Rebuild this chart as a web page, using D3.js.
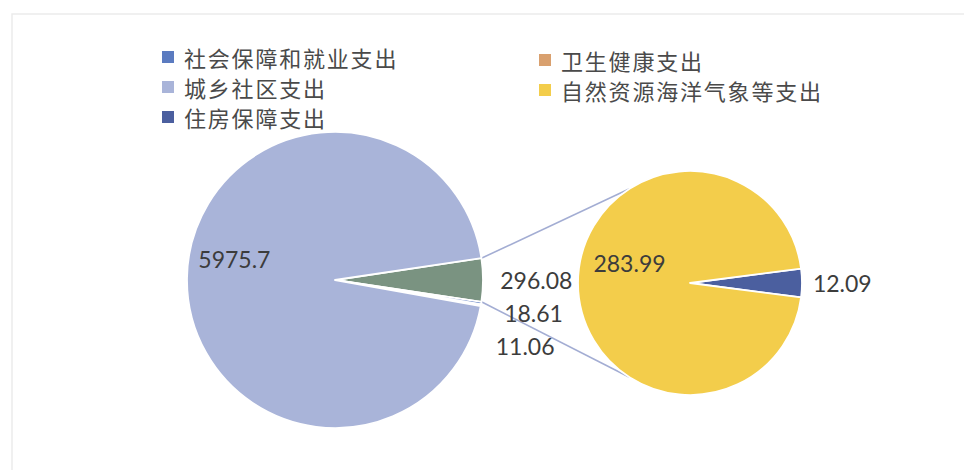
<!DOCTYPE html>
<html lang="zh">
<head>
<meta charset="UTF-8">
<title>支出构成</title>
<script src="https://cdn.jsdelivr.net/npm/d3@7/dist/d3.min.js"></script>
<style>
    body { margin: 0; background: #fff; }
    .legend text { font-family: "Noto Sans CJK SC", sans-serif; font-size: 22px; fill: #4a4a4a; letter-spacing: 1.8px; }
    .lbl { font-family: Lato, "Open Sans", sans-serif; font-size: 23px; fill: #3c3c3c; }
</style>
</head>
<body>
<script>
    // 数据
    var names  = ["社会保障和就业支出", "卫生健康支出", "城乡社区支出", "自然资源海洋气象等支出", "住房保障支出"];
    var values = [18.61, 11.06, 5975.7, 283.99, 12.09];
    var colors = ["#5b7bc0", "#d9a06e", "#a9b4d9", "#f3cd4b", "#4b5f9f"];
    var otherColor = "#7a9381";
    var secondCount = 2;   // 最后两项放进第二个饼

    var W = 964, H = 470;
    var svg = d3.select("body").append("svg").attr("width", W).attr("height", H);

    // 淡边框
    svg.append("rect").attr("x", 12).attr("y", 14).attr("width", W).attr("height", H)
        .attr("fill", "none").attr("stroke", "#ebebeb").attr("stroke-width", 1.5);

    var items = names.map(function(n, i){ return {name: n, value: values[i], color: colors[i]}; });
    var secondItems = items.slice(items.length - secondCount).reverse();   // 住房保障在 3 点钟方向
    var otherValue = d3.sum(secondItems, d => d.value);
    var mainItems = [{name: "其他", value: otherValue, color: otherColor}].concat(items.slice(0, items.length - secondCount));

    var c1 = [335, 280], r1 = 148;
    var c2 = [690, 283], r2 = 112;

    function makePie(list){
        var total = d3.sum(list, d => d.value);
        var a0 = list[0].value / total * 2 * Math.PI;
        return d3.pie().sort(null).value(d => d.value)
            .startAngle(Math.PI / 2 - a0 / 2)
            .endAngle(Math.PI / 2 - a0 / 2 + 2 * Math.PI)(list);
    }
    var mainArcs = makePie(mainItems);
    var secArcs = makePie(secondItems);

    // d3 角度（12 点钟起顺时针）-> 坐标
    function pt(c, r, a){ return [c[0] + r * Math.sin(a), c[1] - r * Math.cos(a)]; }

    // 连接线
    var oth = mainArcs[0];
    var connAngle = 33 * Math.PI / 180;
    var lines = [
        [pt(c1, r1, oth.startAngle), pt(c2, r2, -connAngle)],
        [pt(c1, r1, oth.endAngle), pt(c2, r2, Math.PI + connAngle)]
    ];
    svg.selectAll(".conn").data(lines).enter().append("line")
        .attr("class", "conn")
        .attr("x1", d => d[0][0]).attr("y1", d => d[0][1])
        .attr("x2", d => d[1][0]).attr("y2", d => d[1][1])
        .attr("stroke", "#a3add3").attr("stroke-width", 1.6);

    function drawPie(arcs, c, r){
        var g = svg.append("g").attr("transform", "translate(" + c[0] + "," + c[1] + ")");
        g.selectAll("path").data(arcs).enter().append("path")
            .attr("d", d3.arc().innerRadius(0).outerRadius(r))
            .attr("fill", d => d.data.color)
            .attr("stroke", "#fff").attr("stroke-width", 1.8).attr("stroke-linejoin", "round");
        return g;
    }
    drawPie(mainArcs, c1, r1);
    drawPie(secArcs, c2, r2);

    // 数据标签
    function fmt(v){ return String(v); }
    function labels(arcs, c, r, insideRatio){
        var total = d3.sum(arcs, d => d.value);
        var out = [], prevY = -Infinity;
        arcs.forEach(function(d){
            var mid = (d.startAngle + d.endAngle) / 2;
            var share = d.value / total;
            if (share > 0.5) {
                var p = pt(c, r * insideRatio, mid);
                out.push({x: p[0], y: p[1] - 20, text: fmt(d.value)});
            } else {
                var R = r * 1.36;
                var p = pt(c, R, mid);
                if (p[1] < prevY + 33) {
                    var y = prevY + 33;
                    p = [c[0] + Math.sqrt(R * R - (y - c[1]) * (y - c[1])), y];
                }
                prevY = p[1];
                out.push({x: p[0], y: p[1], text: fmt(d.value)});
            }
        });
        return out;
    }
    var allLabels = labels(mainArcs, c1, r1, 0.68).concat(labels(secArcs, c2, r2, 0.54));
    svg.selectAll(".lbl").data(allLabels).enter().append("text")
        .attr("class", "lbl")
        .attr("x", d => d.x).attr("y", d => d.y)
        .attr("text-anchor", "middle").attr("dominant-baseline", "central")
        .text(d => d.text);

    // 图例（两列，按行排列）
    var legend = svg.append("g").attr("class", "legend");
    var lg = legend.selectAll("g").data(items).enter().append("g")
        .attr("transform", function(d, i){
            var col = i % 2, row = Math.floor(i / 2);
            return "translate(" + (col ? 539 : 162) + "," + (57 + row * 30 + col * 3) + ")";
        });
    lg.append("rect").attr("x", 0).attr("y", -6).attr("width", 12).attr("height", 12).attr("fill", d => d.color);
    lg.append("text").attr("x", 22).attr("y", 0).attr("dominant-baseline", "central").text(d => d.name);
</script>
</body>
</html>
